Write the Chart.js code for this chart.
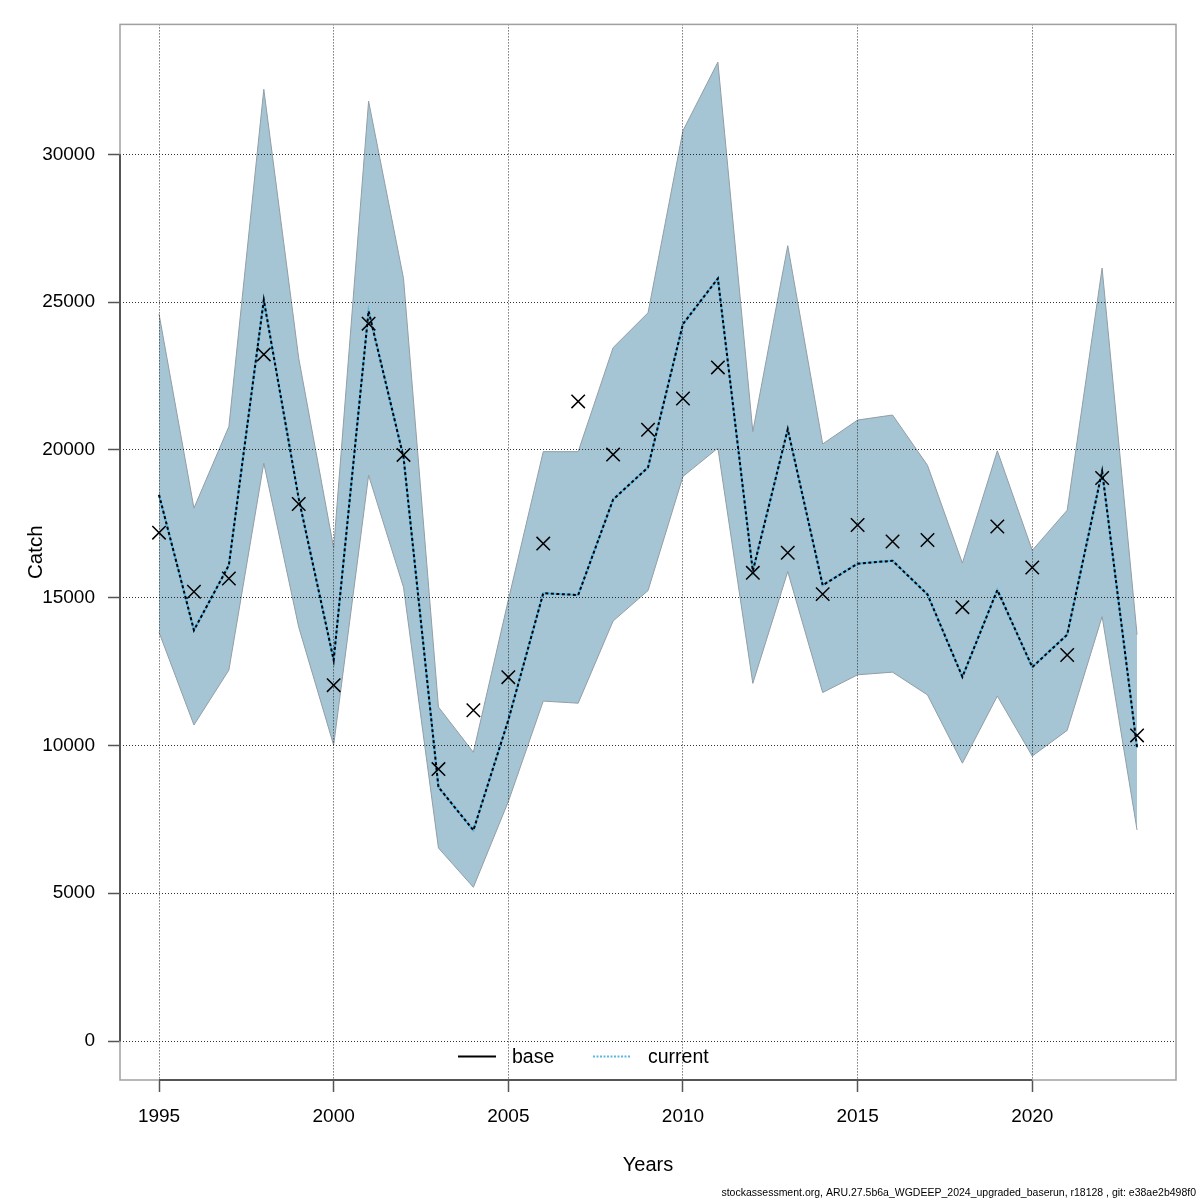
<!DOCTYPE html>
<html>
<head>
<meta charset="utf-8">
<title>Catch</title>
<script src="https://cdn.jsdelivr.net/npm/chart.js@4.4.1/dist/chart.umd.min.js"></script>
<style>
  html, body { margin: 0; padding: 0; background: #fff; }
  #wrap { width: 1200px; height: 1200px; }
</style>
</head>
<body>
<div id="wrap"><canvas id="catchChart" width="1200" height="1200"></canvas></div>
<script>
/* ===== Catch: observed vs estimated with confidence band ===== */

const years = [1995,1996,1997,1998,1999,2000,2001,2002,2003,2004,2005,2006,2007,2008,2009,
               2010,2011,2012,2013,2014,2015,2016,2017,2018,2019,2020,2021,2022,2023];

const observed = [17200,15200,15650,23230,18170,12040,24270,19830,9200,11190,12310,16830,21640,19840,20680,
                  21740,22790,15840,16520,15120,17460,16900,16950,14680,17410,16020,13060,19050,10340];

const estimate = [18480,13900,16100,25070,18350,12890,24700,19750,8590,7130,10860,15150,15090,18320,19410,
                  24260,25800,15900,20700,15420,16150,16250,15110,12320,15260,12650,13750,19280,9920];

const upper = [24600,18030,20790,32200,23100,16680,31800,25800,11300,9770,14920,19940,19940,23460,24640,
               30800,33120,20620,26910,20200,21010,21180,19480,16170,19970,16600,17960,26150,13750];

const lower = [13830,10690,12550,19550,14000,10010,19140,15350,6530,5200,8100,11500,11430,14210,15240,
               19100,20060,12100,15880,11790,12390,12480,11710,9400,11670,9640,10510,14360,7140];

const xTicks = [1995,2000,2005,2010,2015,2020];
const yTicks = [0,5000,10000,15000,20000,25000,30000];

const legendLabels = ['base', 'current'];
const footerText = 'stockassessment.org, ARU.27.5b6a_WGDEEP_2024_upgraded_baserun, r18128 , git: e38ae2b498f0';

const pts = arr => years.map((yr, i) => ({ x: yr, y: arr[i] }));

const BAND = '#a5c4d4';
const BAND_EDGE = '#929ea5';
const CURRENT = '#5ab8e6';

Chart.defaults.font.family = "'Liberation Sans', Arial, Helvetica, sans-serif";
Chart.defaults.color = '#000';

// box, axis lines, legend and footer
const framePlugin = {
  id: 'frame',
  afterDraw(chart) {
    const { ctx, chartArea: a, scales: { x, y } } = chart;
    ctx.save();
    ctx.strokeStyle = '#a0a0a0';
    ctx.lineWidth = 1.5;
    ctx.strokeRect(a.left, a.top, a.right - a.left, a.bottom - a.top);

    ctx.strokeStyle = '#555';
    ctx.lineWidth = 2;
    ctx.beginPath();
    ctx.moveTo(x.getPixelForValue(xTicks[0]), a.bottom);
    ctx.lineTo(x.getPixelForValue(xTicks[xTicks.length - 1]), a.bottom);
    ctx.moveTo(a.left, y.getPixelForValue(yTicks[0]));
    ctx.lineTo(a.left, y.getPixelForValue(yTicks[yTicks.length - 1]));
    ctx.stroke();

    // legend
    const ly = 1056.5;
    ctx.font = "19.5px 'Liberation Sans', Arial, sans-serif";
    ctx.textBaseline = 'middle';
    ctx.textAlign = 'left';
    ctx.fillStyle = '#000';

    ctx.strokeStyle = '#000';
    ctx.lineWidth = 2;
    ctx.setLineDash([]);
    ctx.beginPath(); ctx.moveTo(458, ly); ctx.lineTo(496, ly); ctx.stroke();
    ctx.fillText(legendLabels[0], 512, ly + 1);

    ctx.strokeStyle = CURRENT;
    ctx.setLineDash([2, 1.5]);
    ctx.beginPath(); ctx.moveTo(593, ly); ctx.lineTo(630, ly); ctx.stroke();
    ctx.setLineDash([]);
    ctx.fillText(legendLabels[1], 648, ly + 1);

    // footer
    ctx.font = "10.5px 'Liberation Sans', Arial, sans-serif";
    ctx.textAlign = 'right';
    ctx.textBaseline = 'middle';
    ctx.fillText(footerText, 1196, 1193);
    ctx.restore();
  }
};

const gridCommon = {
  color: 'rgba(0,0,0,0.8)',
  lineWidth: 1,
  borderDash: [1, 2],
  tickLength: 12,
  tickColor: '#555',
  tickWidth: 1.5,
  tickBorderDash: [],
  z: 1
};

new Chart(document.getElementById('catchChart'), {
  type: 'line',
  data: {
    datasets: [
      { label: 'upper', data: pts(upper), borderColor: BAND_EDGE, borderWidth: 1, backgroundColor: BAND,
        fill: '+1', pointRadius: 0, tension: 0, order: 5 },
      { label: 'lower', data: pts(lower), borderColor: BAND_EDGE, borderWidth: 1, backgroundColor: BAND,
        fill: false, pointRadius: 0, tension: 0, order: 4 },
      { label: 'current', data: pts(estimate), borderColor: CURRENT, borderWidth: 2.2,
        fill: false, pointRadius: 0, tension: 0, order: 3 },
      { label: 'base', data: pts(estimate), borderColor: '#000', borderWidth: 2, borderDash: [3, 2.5],
        fill: false, pointRadius: 0, tension: 0, order: 2 },
      { label: 'observed', data: pts(observed), showLine: false, pointStyle: 'crossRot', pointRadius: 9.5,
        pointBorderWidth: 1.5, pointBorderColor: '#000', borderColor: '#000', order: 1 }
    ]
  },
  options: {
    responsive: false,
    animation: false,
    devicePixelRatio: 1,
    layout: { padding: { left: 0, top: 24, right: 24, bottom: 0 } },
    plugins: { legend: { display: false }, tooltip: { enabled: false } },
    scales: {
      x: {
        type: 'linear', min: 1993.883, max: 2024.115,
        afterBuildTicks: s => { s.ticks = xTicks.map(v => ({ value: v })); },
        afterFit: s => { s.height = 120; },
        grid: gridCommon,
        border: { display: false, dash: [1, 2] },
        ticks: { autoSkip: false, maxRotation: 0, padding: 13, font: { size: 19 }, callback: v => String(v) },
        title: { display: true, text: 'Years', font: { size: 20 }, padding: { top: 0, bottom: 23 } }
      },
      y: {
        type: 'linear', min: -1319, max: 34396,
        afterBuildTicks: s => { s.ticks = yTicks.map(v => ({ value: v })); },
        afterFit: s => { s.width = 120; },
        grid: gridCommon,
        border: { display: false, dash: [1, 2] },
        ticks: { autoSkip: false, padding: 13, font: { size: 19 }, callback: v => String(v) },
        title: { display: true, text: 'Catch', font: { size: 20.5 }, padding: { top: 24, bottom: 0 } }
      }
    }
  },
  plugins: [framePlugin]
});
</script>
</body>
</html>
